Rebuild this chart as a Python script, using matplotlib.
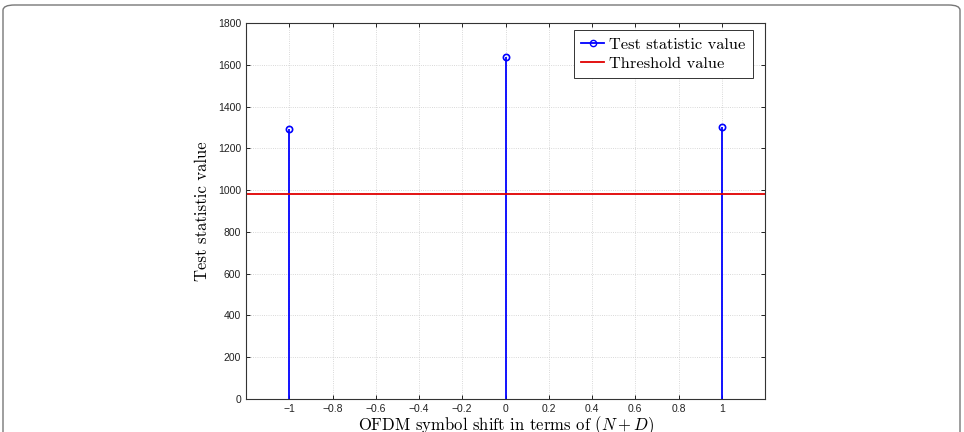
import matplotlib
matplotlib.use("Agg")
import matplotlib.pyplot as plt
from matplotlib.patches import FancyBboxPatch
from matplotlib.lines import Line2D

# data
shifts = [-1, 0, 1]
test_stat = [1292, 1637, 1302]
threshold = 982
xticks = [-1, -0.8, -0.6, -0.4, -0.2, 0, 0.2, 0.4, 0.6, 0.8, 1]
xticklabels = ['\u22121', '\u22120.8', '\u22120.6', '\u22120.4', '\u22120.2', '0',
               '0.2', '0.4', '0.6', '0.8', '1']

plt.rcParams['font.family'] = 'Liberation Sans'
plt.rcParams['mathtext.fontset'] = 'cm'

fig = plt.figure(figsize=(9.64, 4.32), dpi=100)
ax = fig.add_axes([246/964, 1 - 399/432, (765-246)/964, (399-23)/432])

# stem plot
ml, sl, bl = ax.stem(shifts, test_stat, linefmt='b-', markerfmt='bo', basefmt=' ')
plt.setp(sl, color='#0000ff', linewidth=1.3)
plt.setp(ml, markerfacecolor='none', markeredgecolor='#0000ff', markersize=4.5, markeredgewidth=1.2)

ax.axhline(threshold, color='#e00000', linewidth=1.3)

ax.set_xlim(-1.2, 1.2)
ax.set_ylim(0, 1800)
ax.set_xticks(xticks)
ax.set_xticklabels(xticklabels)
ax.set_yticks(range(0, 1801, 200))
ax.tick_params(labelsize=7.5, labelcolor='#222222', direction='in', length=3, width=0.6,
               top=True, right=True)
ax.grid(True, linestyle=':', color='#cccccc', linewidth=0.6)
for s in ax.spines.values():
    s.set_color('#333333')
    s.set_linewidth(0.8)

ax.set_xlabel(r'OFDM symbol shift in terms of $(N+D)$', family='cmr10', fontsize=12, labelpad=0)
ax.set_ylabel('Test statistic value', family='cmr10', fontsize=12, labelpad=6)

# legend with proxy handles
h1 = Line2D([], [], color='#0000ff', marker='o', markevery=[1], markerfacecolor='none',
            markersize=4.5, linewidth=1.3)
h2 = Line2D([], [], color='#e00000', linewidth=1.3)
leg = ax.legend([h1, h2], ['Test statistic value', 'Threshold value'], loc='upper right',
                bbox_to_anchor=(0.977, 0.981), borderaxespad=0,
                prop={'family': 'cmr10', 'size': 11.8},
                fancybox=False, framealpha=1, edgecolor='#333333', handlelength=1.4,
                handletextpad=0.3, borderpad=0.45, labelspacing=0.25)
leg.get_frame().set_linewidth(0.7)

# rounded page border
border = FancyBboxPatch((3/964, -0.05), 957/964, 1 - 5/432 + 0.05,
                        boxstyle='round,pad=0,rounding_size=0.012', transform=fig.transFigure,
                        facecolor='none', edgecolor='#777777', linewidth=1.0, clip_on=False)
fig.patches.append(border)

fig.savefig('out.png', dpi=100)
